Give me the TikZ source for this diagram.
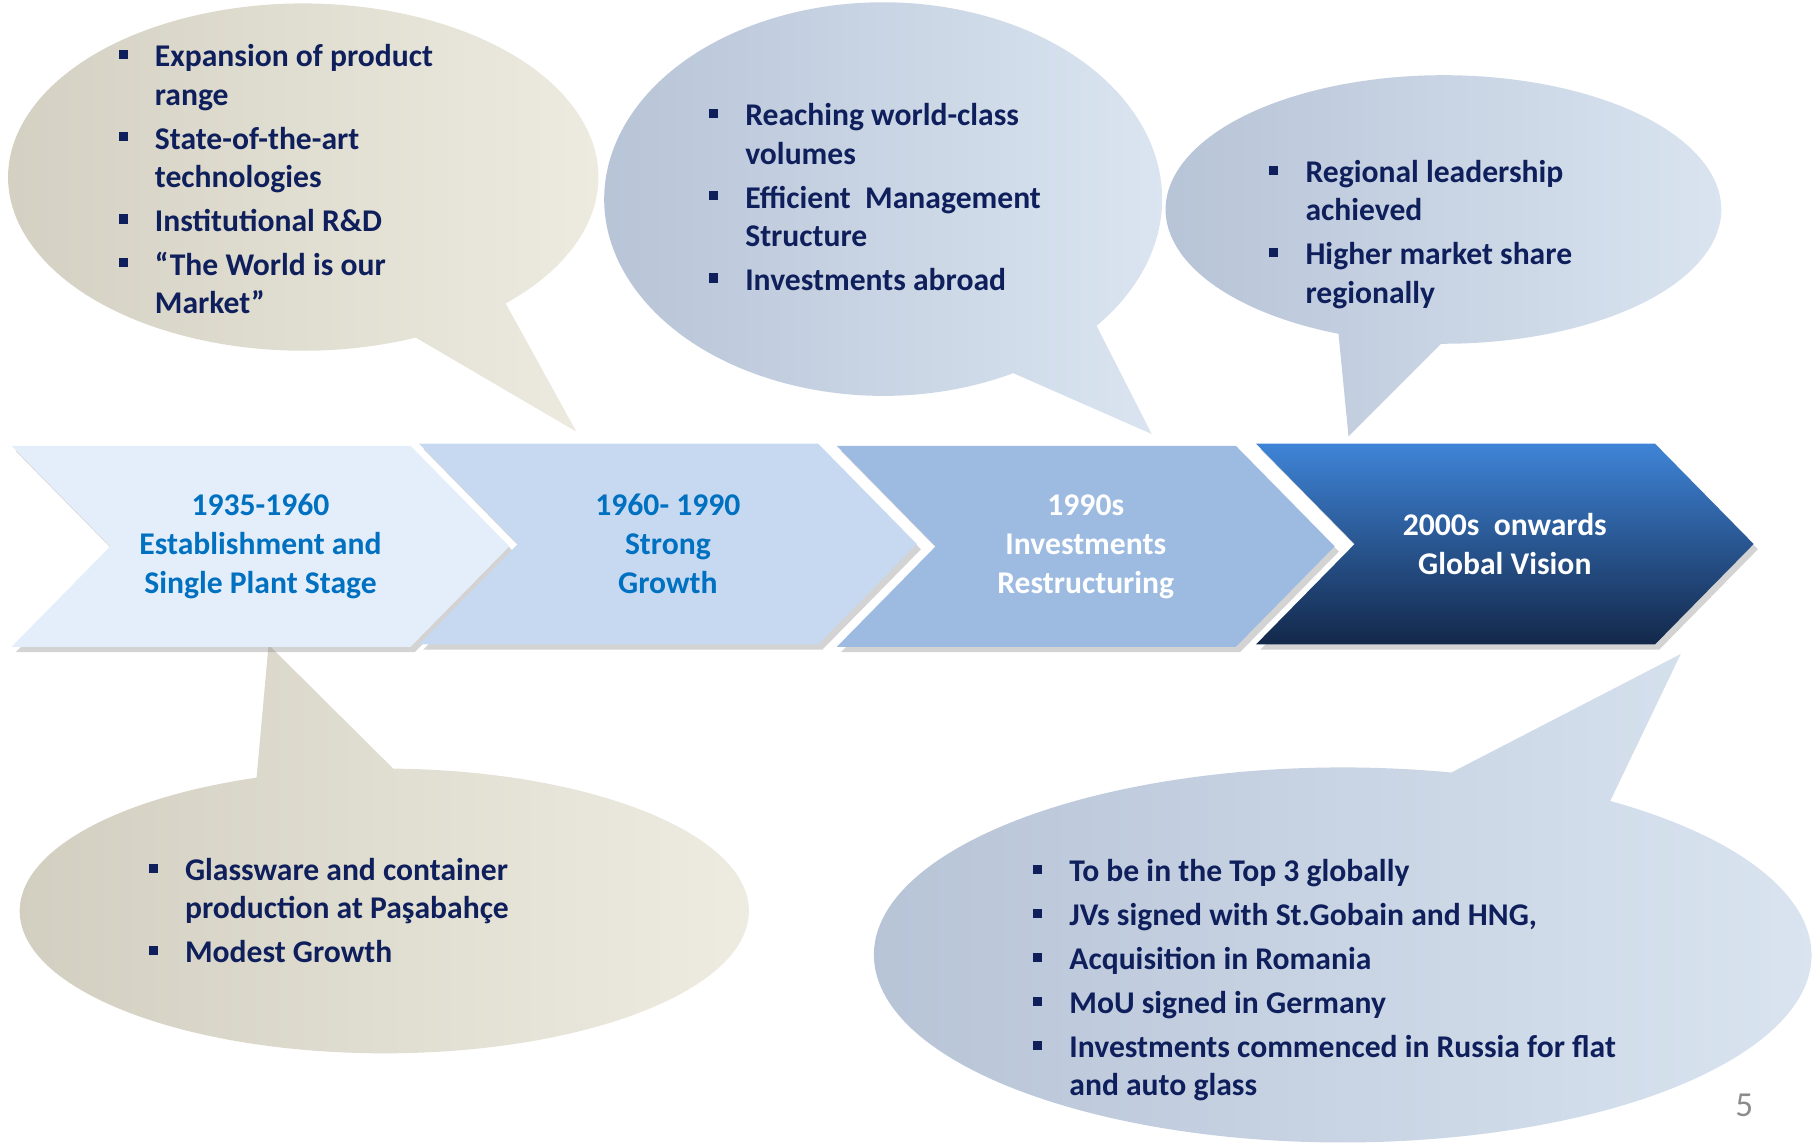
\documentclass[tikz,border=0pt]{standalone}
\usepackage{fontspec}
\setmainfont{Carlito}
\usepackage{tikz}
\usetikzlibrary{shapes.symbols}
\usetikzlibrary{shadows}
\definecolor{navy}{HTML}{0E1F5C}
\definecolor{txtblue}{HTML}{0070C0}
\definecolor{stepA}{HTML}{E4EEFA}
\definecolor{stepB}{HTML}{C6D9F1}
\definecolor{stepC}{HTML}{9DBBE1}
\definecolor{stepDtop}{HTML}{3F84D7}
\definecolor{stepDmid}{HTML}{2D5C9C}
\definecolor{stepDbot}{HTML}{13284A}
\definecolor{sandD}{HTML}{D2CFC1}
\definecolor{sandL}{HTML}{EEECE1}
\definecolor{skyD}{HTML}{B5C2D5}
\definecolor{skyL}{HTML}{DCE6F2}
\newcommand{\sqb}{\makebox[10.3pt][l]{\raisebox{2.2pt}{\rule{2.6pt}{2.6pt}}}}
\newcommand{\sqi}{\hspace*{10.3pt}}
\tikzset{
    chevron/.style={signal, signal to=east, signal from=west, signal pointer angle=91,
        minimum width=4.98cm, minimum height=2.01cm, inner sep=0pt, align=center,
        font=\fontsize{9}{11.1}\selectfont\bfseries,
        drop shadow={shadow xshift=1.2pt, shadow yshift=-1.5pt, opacity=.35}},
    bullets/.style={anchor=north west, inner sep=0pt, align=left, text=navy,
        font=\fontsize{9}{10.9}\selectfont\bfseries},
    sand/.style={left color=sandD, middle color=sandL, right color=sandL},
    sky/.style={left color=skyD, middle color=skyL, right color=skyL},
}

\begin{document}
\begin{tikzpicture}[x=0.011575cm, y=-0.011575cm]
    \useasboundingbox (0, 0) rectangle (1568, 987);
    % speech bubbles
    \shade[sand](262, 153) ++(67.6:255 and 150) arc[start angle=67.6, end angle=406.7, x radius=255, y radius=150] -- (498, 373) -- cycle;
    \shade[sky](763, 172) ++(62.2:241 and 170) arc[start angle=62.2, end angle=400.1, x radius=241, y radius=170] -- (995, 375) -- cycle;
    \shade[sky](1247, 181) ++(112.2:240 and 116) arc[start angle=112.2, end angle=450.5, x radius=240, y radius=116] -- (1165, 377) -- cycle;
    \shade[sand](332, 787) ++(271.4:315 and 123) arc[start angle=271.4, end angle=609.5, x radius=315, y radius=123] -- (232, 557) -- cycle;
    \shade[sky](1160, 825) ++(304.8:405 and 162) arc[start angle=304.8, end angle=643.4, x radius=405, y radius=162] -- (1452, 565) -- cycle;

    \node[chevron, fill=stepA, text=txtblue] (s1) at (225, 472) {1935-1960\\Establishment and\\Single Plant Stage};
    \node[chevron, fill=stepB, text=txtblue] (s2) at (577, 470) {1960- 1990\\Strong\\Growth};
    \node[chevron, fill=stepC, text=white] (s3) at (938, 472) {1990s\\Investments\\Restructuring};
    \node[chevron, top color=stepDtop, middle color=stepDmid, bottom color=stepDbot, text=white] (s4) at (1300, 470) {2000s\ \ onwards\\Global Vision};

    \node[bullets] (b1) at (102, 38) {\sqb Expansion of product\\ \sqi range\\[1.6pt] \sqb State-of-the-art\\ \sqi technologies\\[1.6pt] \sqb Institutional R\&D\\[1.6pt] \sqb “The World is our\\ \sqi Market”};
    \node[bullets] (b2) at (612, 89) {\sqb Reaching world-class\\ \sqi volumes\\[1.6pt] \sqb Efficient\ \ Management\\ \sqi Structure\\[1.6pt] \sqb Investments abroad};
    \node[bullets] (b3) at (1096, 138) {\sqb Regional leadership\\ \sqi achieved\\[1.6pt] \sqb Higher market share\\ \sqi regionally};
    \node[bullets] (b4) at (128, 741) {\sqb Glassware and container\\ \sqi production at Paşabahçe\\[1.6pt] \sqb Modest Growth};
    \node[bullets] (b5) at (892, 742) {\sqb To be in the Top 3 globally\\[1.6pt] \sqb JVs signed with St.Gobain and HNG,\\[1.6pt] \sqb Acquisition in Romania\\[1.6pt] \sqb MoU signed in Germany\\[1.6pt] \sqb Investments commenced in Russia for flat\\ \sqi and auto glass};

    \node[text=gray!90, font=\fontsize{10}{12}\selectfont] (pg) at (1507, 955) {5};
\end{tikzpicture}
\end{document}
